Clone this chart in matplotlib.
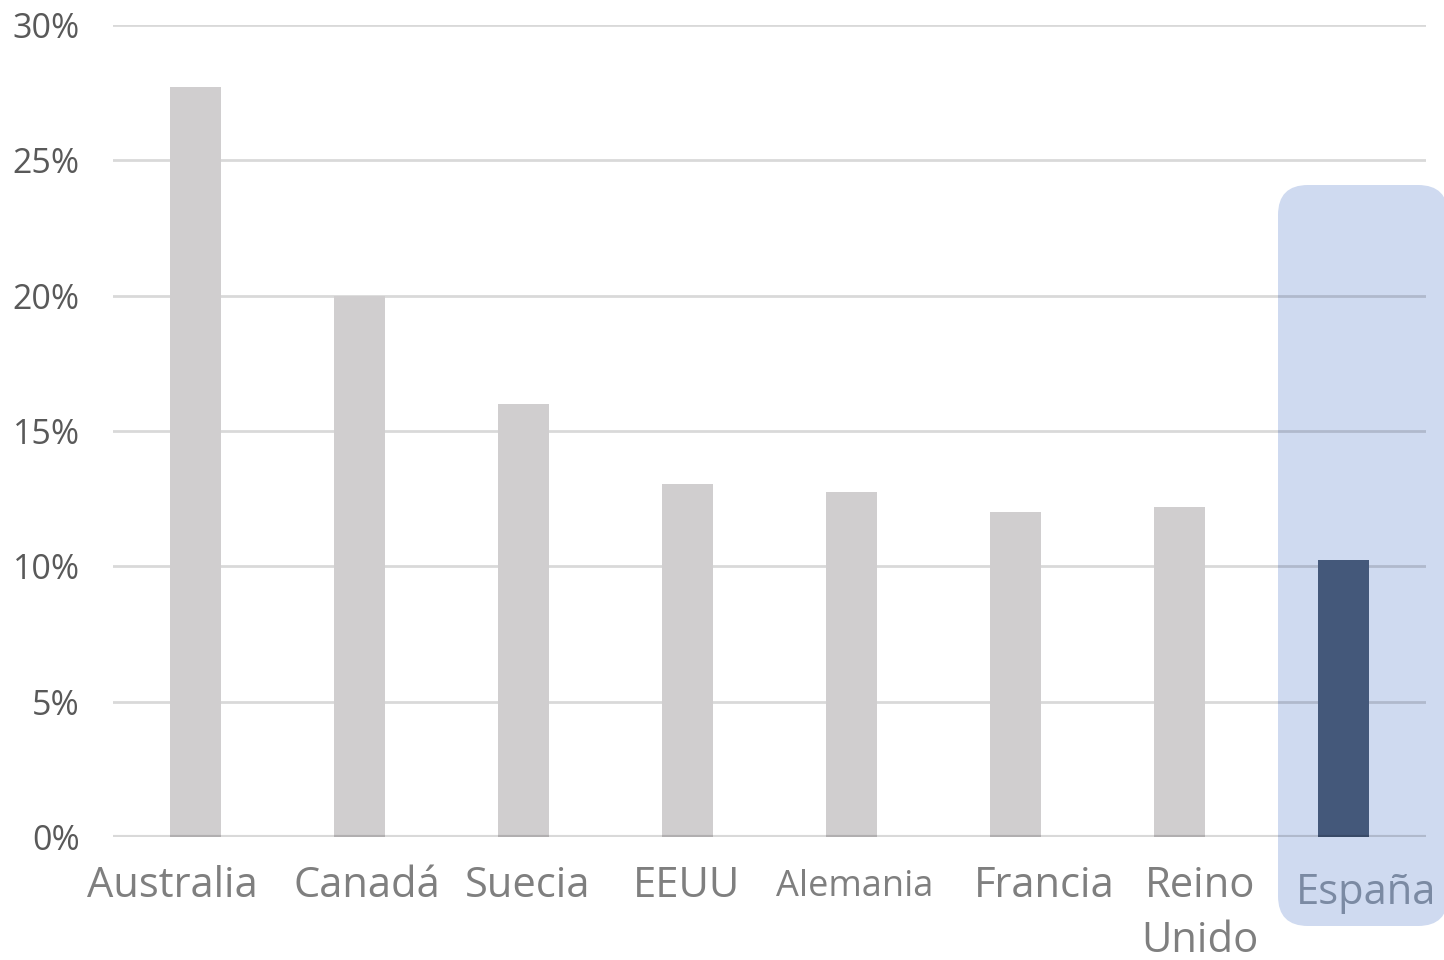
import matplotlib
matplotlib.use("Agg")
import matplotlib.pyplot as plt
from matplotlib.patches import FancyBboxPatch
import numpy as np

categories = ["Australia", "Canadá", "Suecia", "EEUU", "Alemania", "Francia", "Reino\nUnido", "España"]
values = [27.7, 20.0, 16.0, 13.05, 12.75, 12.0, 12.2, 10.25]
yticks = [0, 5, 10, 15, 20, 25, 30]
ytick_labels = ["0%", "5%", "10%", "15%", "20%", "25%", "30%"]
highlight = "España"

# label horizontal nudges (pixels), as placed in the original
label_dx = [-23, 7.5, 4, -1, 3, 28.5, 20, 22.5]

plt.rcParams['font.family'] = ['Open Sans', 'DejaVu Sans']

fig = plt.figure(figsize=(14.44, 9.6), dpi=100)
fig.patch.set_facecolor("white")

# highlight box (decoration, in inches)
box = FancyBboxPatch((12.78, 0.34), 1.70, 7.41,
                     boxstyle="round,pad=0,rounding_size=0.30",
                     transform=fig.dpi_scale_trans, facecolor="#cfdaf0",
                     edgecolor="none", zorder=-5)
fig.patches.append(box)

ax = fig.add_axes([113/1444, 1-837/960, (1426-113)/1444, (837-25)/960])
ax.patch.set_alpha(0)
ax.set_zorder(1)

x = np.arange(len(categories))
colors = ["#44587a" if c == highlight else "#d0cecf" for c in categories]
ax.bar(x, values, width=0.31, color=colors, zorder=3)

ax.set_xlim(-0.5, len(categories) - 0.5)
ax.set_ylim(0, 30)
ax.set_yticks(yticks)
ax.set_yticklabels(ytick_labels, fontsize=24.5, color="#595959")
for t in yticks[1:]:
    ax.axhline(t, color="black", alpha=0.15, lw=2, zorder=1)
ax.axhline(0, color="black", alpha=0.15, lw=3, zorder=4)

for s in ax.spines.values():
    s.set_visible(False)
ax.tick_params(axis="both", length=0)
ax.tick_params(axis="y", pad=24)
ax.set_xticks(x)
ax.set_xticklabels([])

px = 72 / 100.0
for i, c in enumerate(categories):
    fs = 30
    col = "#7f7f7f"
    dy = 0
    if c == "Alemania":
        fs = 26
        dy = -3
    if c == highlight:
        col = "#7b8aa3"
        dy = -5
    ax.annotate(c, xy=(i, 0), xycoords="data",
                xytext=(label_dx[i] * px, -20 + dy),
                textcoords="offset points", ha="center", va="top",
                fontsize=fs, color=col, linespacing=1.4)

fig.savefig("out.png", dpi=100)
